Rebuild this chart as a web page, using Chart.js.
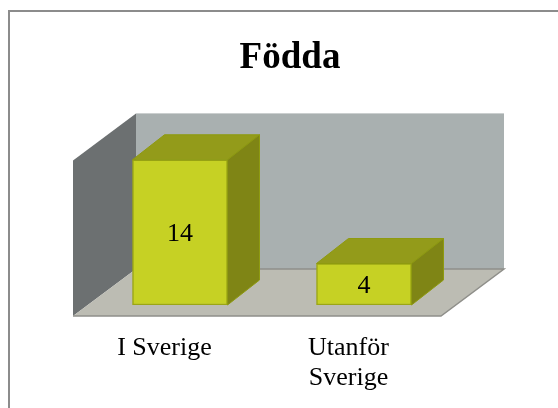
<!DOCTYPE html>
<html><head><meta charset="utf-8">
<style>html,body{margin:0;padding:0;background:#fff}canvas{display:block}</style>
<script src="https://cdn.jsdelivr.net/npm/chart.js@4/dist/chart.umd.min.js"></script>
</head><body>
<div style="width:558px;height:408px"><canvas id="c" width="558" height="408"></canvas></div>
<script>
const categories = ["I Sverige", ["Utanför", "Sverige"]];
const values = [14, 4];
const chartTitle = "Födda";
const yMax = 15;
const depthX = 32, depthY = 25;

const scene = {
  id: 'scene',
  afterLayout(chart) { chart.titleBlock.right += 36; },
  beforeDraw(chart) {
    const c = chart.ctx, a = chart.chartArea;
    c.save();
    c.fillStyle = '#fff'; c.fillRect(0, 0, 558, 408);
    c.strokeStyle = '#8c8c8c'; c.lineWidth = 2;
    c.beginPath(); c.moveTo(9, 408); c.lineTo(9, 11); c.lineTo(558, 11); c.stroke();
    const fx = -15, fy = 11, bx = 48, by = -36;
    const L = a.left, R = a.right, T = a.top, B = a.bottom;
    c.fillStyle = '#a9b0b0';
    c.fillRect(L + bx, T + by, R - L, B - T);
    c.fillStyle = '#6c7071';
    c.beginPath(); c.moveTo(L + fx, T + fy); c.lineTo(L + bx, T + by); c.lineTo(L + bx, B + by); c.lineTo(L + fx, B + fy); c.closePath(); c.fill();
    c.fillStyle = '#bcbcb3';
    c.beginPath(); c.moveTo(L + fx, B + fy); c.lineTo(L + bx, B + by); c.lineTo(R + bx, B + by); c.lineTo(R + fx, B + fy); c.closePath(); c.fill();
    c.strokeStyle = '#8f8f8a'; c.lineWidth = 1.5;
    c.beginPath(); c.moveTo(L + fx, B + fy); c.lineTo(R + fx, B + fy); c.lineTo(R + bx, B + by); c.lineTo(L + bx, B + by); c.stroke();
    c.restore();
  },
  afterDatasetsDraw(chart) {
    const c = chart.ctx;
    const meta = chart.getDatasetMeta(0);
    c.save();
    meta.data.forEach((el, i) => {
      const l = el.x - el.width / 2, r = el.x + el.width / 2, t = el.y, b = el.base;
      c.lineWidth = 1; c.strokeStyle = '#8e9a10';
      c.fillStyle = '#939b1a';
      c.beginPath(); c.moveTo(l, t); c.lineTo(l + depthX, t - depthY); c.lineTo(r + depthX, t - depthY); c.lineTo(r, t); c.closePath(); c.fill(); c.stroke();
      c.fillStyle = '#7f8515';
      c.beginPath(); c.moveTo(r, t); c.lineTo(r + depthX, t - depthY); c.lineTo(r + depthX, b - depthY); c.lineTo(r, b); c.closePath(); c.fill(); c.stroke();
      c.fillStyle = '#000';
      c.font = '26px "Liberation Serif"'; c.textAlign = 'center'; c.textBaseline = 'middle';
      c.fillText(String(values[i]), el.x, (t + b) / 2 + 1.5);
    });
    c.restore();
  }
};

new Chart(document.getElementById('c'), {
  type: 'bar',
  data: { labels: categories, datasets: [{ data: values, backgroundColor: '#c6d124', borderColor: '#9ba615', borderWidth: 1.5, borderSkipped: false, barThickness: 95 }] },
  plugins: [scene],
  options: {
    responsive: false, animation: false, events: [],
    layout: { padding: { left: 88, right: 102, top: 36, bottom: 0 } },
    plugins: {
      legend: { display: false }, tooltip: { enabled: false },
      title: { display: true, text: chartTitle, color: '#000', font: { family: 'Liberation Serif', size: 37, weight: 'bold' }, padding: { top: 0, bottom: 69 } }
    },
    scales: {
      y: { display: false, min: 0, max: yMax },
      x: {
        grid: { display: false }, border: { display: false },
        afterFit(s) { s.height = 103; },
        ticks: { color: '#000', font: { family: 'Liberation Serif', size: 26, lineHeight: 1.16 }, maxRotation: 0, minRotation: 0, autoSkip: false, labelOffset: -15.5, padding: 20 }
      }
    }
  }
});
</script>
</body></html>
